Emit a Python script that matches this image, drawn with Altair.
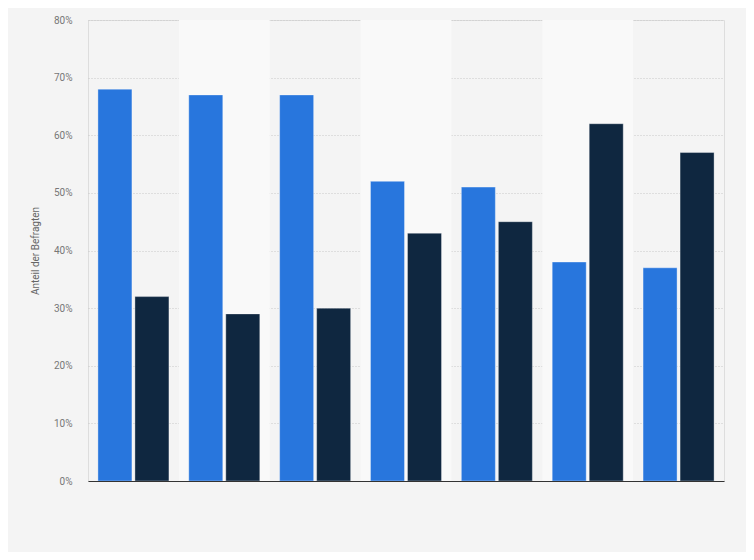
import altair as alt
import pandas as pd

categories = ["A", "B", "C", "D", "E", "F", "G"]
series_names = ["Serie 1", "Serie 2"]
series1 = [68, 67, 67, 52, 51, 38, 37]
series2 = [32, 29, 30, 43, 45, 62, 57]
y_ticks = [0, 10, 20, 30, 40, 50, 60, 70, 80]

rows = []
for i, c in enumerate(categories):
    rows.append({"category": c, "series": series_names[0], "value": series1[i] / 100})
    rows.append({"category": c, "series": series_names[1], "value": series2[i] / 100})
df = pd.DataFrame(rows)

bands = pd.DataFrame({"category": categories, "idx": list(range(len(categories)))})
bands = bands[bands["idx"] % 2 == 1]

W, H = 636, 461

xscale = alt.Scale(domain=categories, paddingInner=0, paddingOuter=0)

bg = alt.Chart(bands).mark_rect(color="#f9f9f9").encode(
    x=alt.X("category:N", scale=xscale, sort=categories,
            axis=alt.Axis(labels=False, ticks=False, title=None, domain=True,
                          domainColor="#333333", domainWidth=1, grid=False)),
    y=alt.value(0),
    y2=alt.value(H),
)

bars = alt.Chart(df).mark_bar(stroke="#ffffff", strokeOpacity=0.35, strokeWidth=1).encode(
    x=alt.X("category:N", scale=xscale, sort=categories),
    xOffset=alt.XOffset("series:N", sort=series_names,
                        scale=alt.Scale(paddingInner=0.081, paddingOuter=0.268)),
    y=alt.Y("value:Q",
            scale=alt.Scale(domain=[0, 0.8], nice=False),
            axis=alt.Axis(values=[t / 100 for t in y_ticks], format=".0%",
                          title="Anteil der Befragten", titleFontSize=10,
                          titleFontWeight="normal", titleColor="#666666",
                          titleX=-48, titleY=H / 2, titleAngle=-90,
                          titleAlign="center", titleBaseline="bottom",
                          labelColor="#777777", labelFontSize=10,
                          labelPadding=16, ticks=False, domain=False,
                          grid=True, gridColor="#c8c8c8", gridDash=[1, 2],
                          gridWidth=1)),
    color=alt.Color("series:N", sort=series_names,
                    scale=alt.Scale(domain=series_names, range=["#2876dd", "#0f2740"]),
                    legend=None),
)

chart = alt.layer(bg, bars).properties(
    width=W, height=H,
    background="#f4f4f4",
    autosize=alt.AutoSizeParams(type="none"),
    padding={"left": 80, "top": 12, "right": 22, "bottom": 71},
).configure_view(stroke=None).configure(font="Roboto")

chart.save("out.html", embed_options={"renderer": "svg", "actions": False})
